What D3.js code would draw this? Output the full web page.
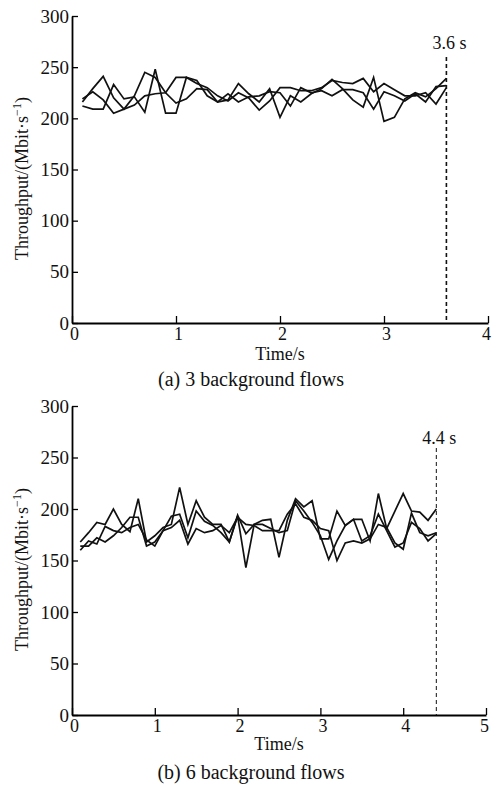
<!DOCTYPE html>
<html>
<head>
<meta charset="utf-8">
<script src="https://cdn.jsdelivr.net/npm/d3@7"></script>
<style>
  html, body { margin: 0; padding: 0; background: #fff; }
  svg text { font-family: "Liberation Serif", "Times New Roman", serif; fill: #111; }
</style>
</head>
<body>
<div id="chart"></div>
<script>
// ===== Data (a) 3 background flows =====
const timeA = [0.1, 0.2, 0.3, 0.4, 0.5, 0.6, 0.7, 0.8, 0.9, 1.0, 1.1, 1.2,
  1.3, 1.4, 1.5, 1.6, 1.7, 1.8, 1.9, 2.0, 2.1, 2.2, 2.3, 2.4,
  2.5, 2.6, 2.7, 2.8, 2.9, 3.0, 3.1, 3.2, 3.3, 3.4, 3.5, 3.6];
const flowA1 = [216, 229, 241, 220, 209, 222, 245, 240, 225, 215, 219, 229,
  228, 216, 218, 234, 224, 216, 229, 201, 222, 216, 224, 229,
  238, 229, 218, 211, 240, 197, 201, 219, 225, 221, 229, 239];
const flowA2 = [212, 209, 209, 233, 219, 221, 206, 248, 205, 205, 240, 234,
  230, 222, 217, 225, 220, 208, 217, 230, 230, 227, 227, 230,
  237, 235, 234, 239, 226, 234, 228, 222, 222, 225, 214, 230];
const flowA3 = [219, 226, 218, 205, 209, 213, 222, 224, 225, 240, 240, 237,
  222, 216, 224, 216, 221, 222, 226, 225, 212, 230, 225, 227,
  222, 228, 228, 225, 209, 226, 222, 217, 224, 216, 231, 232];

// ===== Data (b) 6 background flows =====
const timeB = [0.1, 0.2, 0.3, 0.4, 0.5, 0.6, 0.7, 0.8, 0.9, 1.0, 1.1,
  1.2, 1.3, 1.4, 1.5, 1.6, 1.7, 1.8, 1.9, 2.0, 2.1, 2.2,
  2.3, 2.4, 2.5, 2.6, 2.7, 2.8, 2.9, 3.0, 3.1, 3.2, 3.3,
  3.4, 3.5, 3.6, 3.7, 3.8, 3.9, 4.0, 4.1, 4.2, 4.3, 4.4];
const flowB1 = [168, 177, 187, 185, 200, 185, 178, 210, 168, 174, 182,
  185, 221, 185, 208, 192, 185, 185, 168, 194, 176, 185,
  189, 190, 153, 189, 210, 202, 208, 171, 171, 198, 184,
  190, 190, 169, 215, 181, 198, 215, 198, 197, 189, 200];
const flowB2 = [164, 164, 172, 168, 174, 182, 192, 192, 164, 168, 179,
  193, 195, 172, 198, 188, 184, 177, 168, 193, 143, 185,
  185, 181, 177, 179, 208, 198, 187, 174, 151, 169, 184,
  190, 169, 174, 195, 179, 163, 167, 187, 181, 169, 176];
const flowB3 = [160, 169, 166, 183, 179, 177, 182, 185, 170, 164, 179,
  182, 189, 166, 181, 177, 179, 184, 177, 192, 185, 184,
  179, 179, 179, 195, 205, 192, 189, 181, 179, 150, 167,
  169, 167, 171, 185, 182, 167, 161, 196, 177, 174, 177];

const yTicks = [0, 50, 100, 150, 200, 250, 300];
const xTicksA = [0, 1, 2, 3, 4];
const xTicksB = [0, 1, 2, 3, 4, 5];

const panels = [
  { time: timeA, flows: [flowA1, flowA2, flowA3], xMax: 4, xTicks: xTicksA,
    marker: 3.6, markerLabel: "3.6 s", caption: "(a) 3 background flows",
    left: 72, right: 488, top: 16, bottom: 323,
    markerTop: 57, dashW: 1.6, labelDy: -8, titleDy: 37, capDy: 63 },
  { time: timeB, flows: [flowB1, flowB2, flowB3], xMax: 5, xTicks: xTicksB,
    marker: 4.4, markerLabel: "4.4 s", caption: "(b) 6 background flows",
    left: 72, right: 486, top: 406, bottom: 715,
    markerTop: 448, dashW: 1, labelDy: -4, titleDy: 35, capDy: 64 }
];

const svg = d3.select("#chart").append("svg")
  .attr("width", 496)
  .attr("height", 786);

panels.forEach((p) => {
  const x = d3.scaleLinear().domain([0, p.xMax]).range([p.left, p.right]);
  const y = d3.scaleLinear().domain([0, 300]).range([p.bottom, p.top]);
  const g = svg.append("g");

  // axes
  const xAxis = g.append("g")
    .attr("transform", `translate(0,${p.bottom})`)
    .call(d3.axisBottom(x).tickValues(p.xTicks).tickFormat(d3.format("d"))
      .tickSize(-7).tickSizeOuter(0).tickPadding(4))
    .call((a) => a.select(".domain").attr("stroke-width", 1.8))
    .call((a) => a.selectAll(".tick line").attr("stroke-width", 1.3));
  xAxis.selectAll("text")
    .attr("font-size", 18)
    .attr("fill", "#111")
    .attr("dx", (d) => (d === p.xMax ? -2 : 2));

  g.append("g")
    .attr("transform", `translate(${p.left},0)`)
    .call(d3.axisLeft(y).tickValues(yTicks).tickSize(-6).tickSizeOuter(0).tickPadding(3))
    .call((a) => a.select(".domain").attr("stroke-width", 1.8))
    .call((a) => a.selectAll(".tick line").attr("stroke-width", 1.3))
    .selectAll("text")
    .attr("font-size", 19)
    .attr("fill", "#111");

  // lines
  const line = d3.line()
    .x((d, i) => x(p.time[i]))
    .y((d) => y(d));

  p.flows.forEach((f) => {
    g.append("path")
      .datum(f)
      .attr("fill", "none")
      .attr("stroke", "#111")
      .attr("stroke-width", 1.7)
      .attr("d", line);
  });

  // marker
  g.append("line")
    .attr("x1", x(p.marker)).attr("x2", x(p.marker))
    .attr("y1", p.markerTop).attr("y2", p.bottom)
    .attr("stroke", "#111")
    .attr("stroke-width", p.dashW)
    .attr("stroke-dasharray", "4,3");

  g.append("text")
    .attr("x", x(p.marker) + 3)
    .attr("y", p.markerTop + p.labelDy)
    .attr("text-anchor", "middle")
    .attr("font-size", 18)
    .text(p.markerLabel);

  // axis titles
  g.append("text")
    .attr("x", (p.left + p.right) / 2)
    .attr("y", p.bottom + p.titleDy)
    .attr("text-anchor", "middle")
    .attr("font-size", 18)
    .text("Time/s");

  const yt = g.append("text")
    .attr("transform", `translate(28,${(p.top + p.bottom) / 2 + 9}) rotate(-90)`)
    .attr("text-anchor", "middle")
    .attr("font-size", 18);
  yt.append("tspan").text("Throughput/(Mbit·s");
  yt.append("tspan").attr("font-size", 12).attr("dy", -7).text("−1");
  yt.append("tspan").attr("dy", 7).text(")");

  g.append("text")
    .attr("x", 251)
    .attr("y", p.bottom + p.capDy)
    .attr("text-anchor", "middle")
    .attr("font-size", 20)
    .text(p.caption);
});
</script>
</body>
</html>
